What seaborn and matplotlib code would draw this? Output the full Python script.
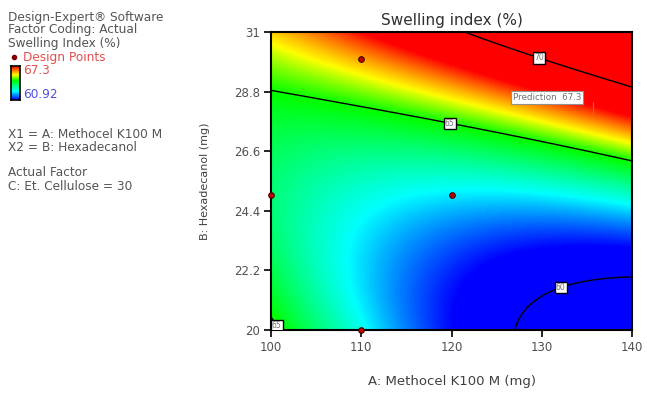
import numpy as np
import pandas as pd
import seaborn as sns
import matplotlib
matplotlib.use("Agg")
import matplotlib.pyplot as plt
from matplotlib.colors import LinearSegmentedColormap
from matplotlib.lines import Line2D

# ---------------- data ----------------
# Reduced-cubic response-surface model in coded units
# a = (A-120)/20, b = (B-25.5)/5.5
model_terms = ["const", "a", "b", "ab", "a2", "b2", "ab2", "a2b"]
model_coef = [62.966, -0.040, 4.356, 3.660, 0.958, 2.375, 0.508, -0.129]
a_center, a_half = 120.0, 20.0
b_center, b_half = 25.5, 5.5

design_A = [100, 110, 110, 120]
design_B = [25, 20, 30, 25]

contour_levels = [60, 65, 70]
resp_min, resp_max = 60.92, 67.3

x_ticks = [100, 110, 120, 130, 140]
y_ticks = [20, 22.2, 24.4, 26.6, 28.8, 31]
y_tick_labels = ["20", "22.2", "24.4", "26.6", "28.8", "31"]

pred_A, pred_B, pred_value = 135.7, 27.94, 67.3

# ---------------- figure ----------------
sns.set_theme(style="ticks")
plt.rcParams["font.family"] = ["DejaVu Sans"]

fig = plt.figure(figsize=(6.47, 3.93), dpi=100)
ax = fig.add_axes([271/647, 1-330/393, (632-271)/647, (330-32)/393])

A = np.linspace(100, 140, 300)
B = np.linspace(20, 31, 300)
AA, BB = np.meshgrid(A, B)
a = (AA - a_center) / a_half
b = (BB - b_center) / b_half
terms = [np.ones_like(a), a, b, a*b, a**2, b**2, a*b**2, a**2*b]
Z = sum(c * t for c, t in zip(model_coef, terms))

# colour ramp (blue-cyan-green-yellow-red), red reached slightly above the max
ramp_top = 67.9
def frac(v):
    return (v - resp_min) / (ramp_top - resp_min)
cmap = LinearSegmentedColormap.from_list(
    "dx", [(0.0, "#0000ff"), (frac(62.7), "#00ffff"), (frac(64.95), "#00ff00"),
           (frac(66.1), "#ffff00"), (1.0, "#ff0000")])
ax.pcolormesh(AA, BB, Z, cmap=cmap, vmin=resp_min, vmax=ramp_top,
              shading="gouraud", rasterized=True)
cs = ax.contour(AA, BB, Z, levels=contour_levels, colors="black", linewidths=1.0)
labels = ax.clabel(cs, fmt="%d", fontsize=5.5, inline=False,
                   manual=[(129.8, 30.15), (119.9, 27.83), (132.0, 21.66), (101.0, 20.25)])
for t in labels:
    t.set_rotation(0)
    t.set_color("#707070")
    t.set_bbox(dict(facecolor="white", edgecolor="black", linewidth=1.0, pad=0.8))

pts = pd.DataFrame({"A": design_A, "B": design_B})
sns.scatterplot(data=pts, x="A", y="B", ax=ax, color="#c00000", edgecolor="#400000",
                s=16, linewidth=0.8, marker="o", clip_on=False, zorder=5, legend=False)

# prediction flag
ax.plot([pred_A, pred_A], [pred_B, 28.42], color="#808080", lw=0.8)
ax.text(126.8, 28.42, f"Prediction  {pred_value}", fontsize=6.3, color="#707070",
        ha="left", va="bottom",
        bbox=dict(facecolor="white", edgecolor="#909090", linewidth=0.8, pad=1.2))

ax.set_xlim(100, 140)
ax.set_ylim(20, 31)
ax.set_xticks(x_ticks)
ax.set_yticks(y_ticks)
ax.set_yticklabels(y_tick_labels)
ax.tick_params(axis="both", direction="out", length=5, width=1.2, color="black",
               labelsize=8.5, labelcolor="#505050", pad=3)
for s in ax.spines.values():
    s.set_linewidth(1.5)
    s.set_color("black")

ax.set_xlabel("A: Methocel K100 M (mg)", fontsize=9.5, color="#404040", labelpad=15)
ax.set_ylabel("B: Hexadecanol (mg)", fontsize=8, color="#404040", labelpad=17)
ax.set_title("Swelling index (%)", fontsize=11, color="#303030", pad=5)

# left-hand legend text
tc = "#555555"
fs = 8.7
fig.text(8/647, 1-17/393, "Design-Expert® Software", fontsize=fs, color=tc, va="center")
fig.text(8/647, 1-30/393, "Factor Coding: Actual", fontsize=fs, color=tc, va="center")
fig.text(8/647, 1-44/393, "Swelling Index (%)", fontsize=fs, color=tc, va="center")
fig.add_artist(Line2D([14/647], [1-57/393], marker="o", markersize=3, color="#800000",
                      transform=fig.transFigure))
fig.text(23/647, 1-57/393, "Design Points", fontsize=fs, color="#e05050", va="center")
cax = fig.add_axes([11/647, 1-100/393, 9/647, 34/393])
grad = np.linspace(resp_min, ramp_top, 100).reshape(-1, 1)
cax.imshow(grad, aspect="auto", cmap=cmap, origin="lower", vmin=resp_min, vmax=ramp_top)
cax.set_xticks([]); cax.set_yticks([])
for s in cax.spines.values():
    s.set_linewidth(1.2); s.set_color("black")
fig.text(23/647, 1-70/393, f"{resp_max}", fontsize=fs, color="#e05050", va="center")
fig.text(23/647, 1-95/393, f"{resp_min}", fontsize=fs, color="#5050e0", va="center")
fig.text(8/647, 1-134/393, "X1 = A: Methocel K100 M", fontsize=fs, color=tc, va="center")
fig.text(8/647, 1-147/393, "X2 = B: Hexadecanol", fontsize=fs, color=tc, va="center")
fig.text(8/647, 1-173/393, "Actual Factor", fontsize=fs, color=tc, va="center")
fig.text(8/647, 1-186/393, "C: Et. Cellulose = 30", fontsize=fs, color=tc, va="center")

fig.savefig("out.png", dpi=100)
